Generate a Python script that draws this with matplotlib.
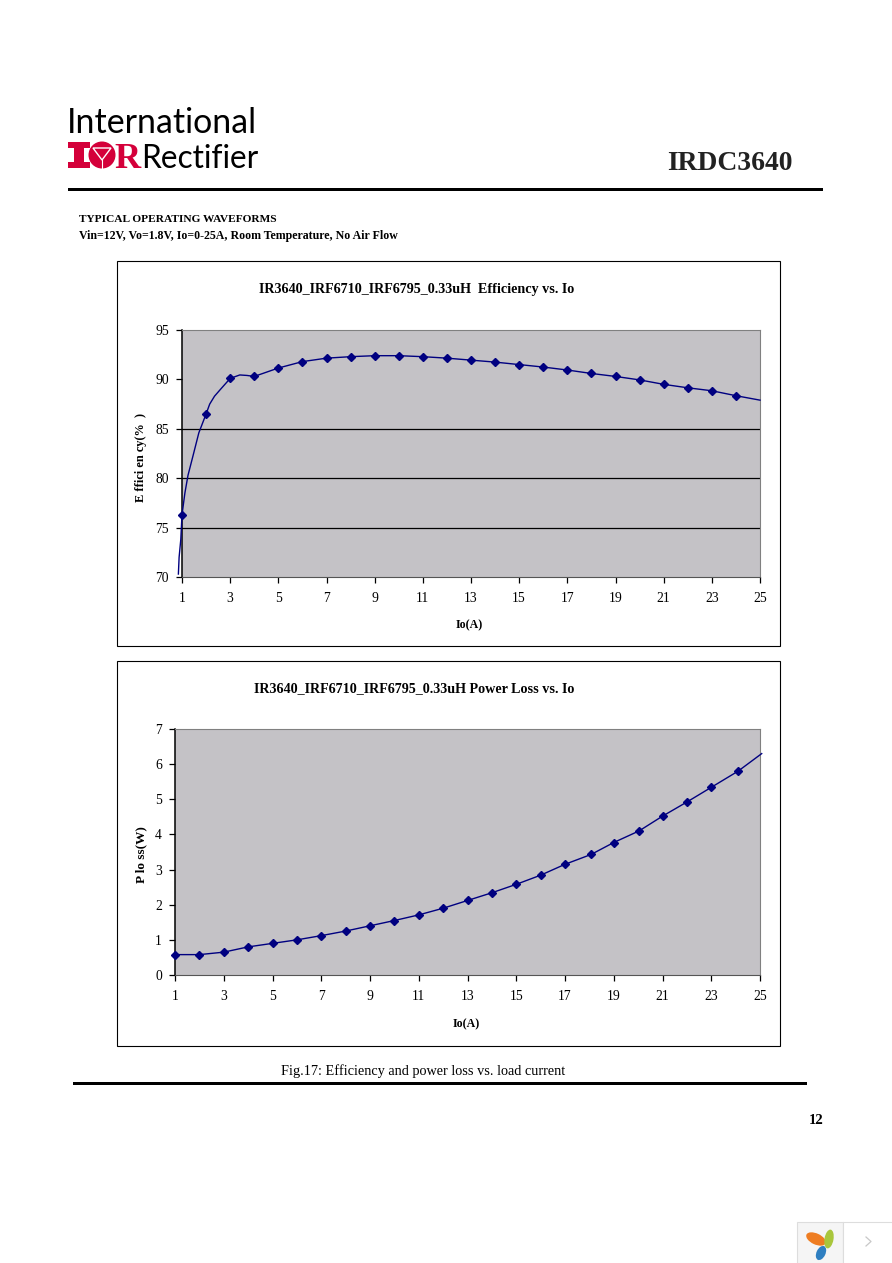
import matplotlib
matplotlib.use('Agg')
import matplotlib.pyplot as plt
from matplotlib.patches import Rectangle, Circle, Ellipse, Polygon

W, H = 892, 1263
SERIF = 'Liberation Serif'
NAVY = '#000080'
PLOT_BG = '#c4c2c6'
RED = '#d4003a'

# efficiency, markers at Io = 1..24
io_marks = list(range(1, 25))
eff_marks = [76.3, 86.5, 90.1, 90.3, 91.15, 91.8, 92.15, 92.3, 92.4, 92.4, 92.3, 92.15,
             91.95, 91.75, 91.5, 91.25, 90.95, 90.6, 90.3, 89.95, 89.5, 89.15, 88.85, 88.35]
# the curve, it starts left of the axis and bends between markers
eff_line_x = [0.85, 0.88, 0.95, 1, 1.12, 1.25, 1.45, 1.7, 2, 2.15, 2.35, 2.6, 3, 3.4, 3.7, 4,
              5, 6, 7, 8, 9, 10, 11, 12, 13, 14, 15, 16, 17, 18, 19, 20, 21, 22, 23, 24, 25]
eff_line_y = [70.3, 72, 73.8, 76.3, 78.5, 80.3, 82.2, 84.6, 86.5, 87.5, 88.3, 89.0, 90.1, 90.45, 90.4, 90.3,
              91.15, 91.8, 92.15, 92.3, 92.4, 92.4, 92.3, 92.15, 91.95, 91.75, 91.5, 91.25,
              90.95, 90.6, 90.3, 89.95, 89.5, 89.15, 88.85, 88.35, 87.9]
eff_ticks = [70, 75, 80, 85, 90, 95]
eff_grid = [75, 80, 85]

# power loss, the later markers sit slightly right of their ticks
loss_io = [1, 2, 3, 4, 5, 6, 7, 8, 9, 10, 11, 12, 13, 14, 15, 16, 17, 18.07, 19, 20.04, 21, 22.02, 23, 24.1]
loss_marks = [0.58, 0.58, 0.65, 0.8, 0.9, 1.0, 1.12, 1.25, 1.4, 1.55, 1.71, 1.9,
              2.12, 2.34, 2.58, 2.84, 3.15, 3.43, 3.77, 4.1, 4.52, 4.93, 5.34, 5.8]
loss_line_x = loss_io + [25.07]
loss_line_y = loss_marks + [6.3]
loss_ticks = [0, 1, 2, 3, 4, 5, 6, 7]

x_ticks = list(range(1, 26, 2))


def ax_px(fig, left, top, right, bottom):
    return fig.add_axes([left / W, 1 - bottom / H, (right - left) / W, (bottom - top) / H])


def chart(fig, box, line_x, line_y, marks_x, marks, ylim, yticks, ylabel, ylabel_size, ylabel_y, xlabel_x, xlabel_y):
    left, top, right, bottom = box
    ax = ax_px(fig, left, top, right, bottom)
    ax.set_facecolor(PLOT_BG)
    ax.plot(line_x, line_y, color=NAVY, lw=1.0, clip_on=False, zorder=4)
    ax.plot(marks_x, marks, ls='none', marker='D', ms=4.5, color=NAVY, clip_on=False, zorder=5)
    ax.set_xlim(1, 25)
    ax.set_ylim(*ylim)
    ax.set_xticks(x_ticks)
    ax.set_yticks(yticks)
    ax.tick_params(length=4.5, width=0.9, labelsize=9.8, color='black')
    ax.tick_params(axis='x', pad=6)
    ax.tick_params(axis='y', pad=5)
    for lab in ax.get_xticklabels() + ax.get_yticklabels():
        lab.set_family(SERIF)
    ax.spines['right'].set_color('#808080')
    ax.spines['top'].set_color('#808080')
    ax.spines['bottom'].set_color('#555555')
    ax.spines['left'].set_linewidth(1.1)
    fig.text(141 / W, 1 - ylabel_y / H, ylabel, rotation=90, family=SERIF,
             weight='bold', fontsize=ylabel_size, ha='center', va='center')
    fig.text(xlabel_x / W, 1 - xlabel_y / H, 'Io(A)', family=SERIF, weight='bold',
             fontsize=8.6, ha='center', va='center')
    return ax


fig = plt.figure(figsize=(W / 100, H / 100), dpi=100, facecolor='white')

# page layer in pixel coordinates
page = fig.add_axes([0, 0, 1, 1])
page.set_xlim(0, W)
page.set_ylim(H, 0)
page.axis('off')

# logo
page.text(67, 133, 'International', family='Lato', fontsize=24.4, va='baseline', color='black')
page.text(141, 168, 'Rectifier', family='Lato', fontsize=22.8, va='baseline', color='black')
page.add_patch(Rectangle((68, 142), 22, 6, color=RED, lw=0))
page.add_patch(Rectangle((68, 162), 22, 6, color=RED, lw=0))
page.add_patch(Rectangle((74, 142), 10, 26, color=RED, lw=0))
page.add_patch(Circle((102, 155), 13.5, color=RED, lw=0))
page.add_patch(Polygon([[93, 148], [111, 148], [102, 160]], fc=RED, ec='white', lw=1.0))
page.plot([102, 102], [160, 168.5], color='white', lw=0.8)
page.text(114, 168, 'R', family=SERIF, weight='bold', fontsize=26, va='baseline', color=RED)

page.text(793, 163, 'IRDC3640', family=SERIF, weight='bold', fontsize=19.9, ha='right', va='center', color='#222222')
page.add_patch(Rectangle((68, 187.5), 755, 3, color='black', lw=0))

page.text(79, 219, 'TYPICAL OPERATING WAVEFORMS', family=SERIF, weight='bold', fontsize=8.2, va='center')
page.text(79, 236, 'Vin=12V, Vo=1.8V, Io=0-25A, Room Temperature, No Air Flow', family=SERIF, weight='bold',
          fontsize=8.6, va='center')

# chart frames
page.add_patch(Rectangle((117, 261), 663, 385, fc='white', ec='black', lw=0.8))
page.add_patch(Rectangle((117, 661), 663, 385, fc='white', ec='black', lw=0.8))

page.text(416.5, 290, 'IR3640_IRF6710_IRF6795_0.33uH  Efficiency vs. Io', family=SERIF, weight='bold',
          fontsize=10.2, ha='center', va='center')
page.text(414.5, 689, 'IR3640_IRF6710_IRF6795_0.33uH Power Loss vs. Io', family=SERIF, weight='bold',
          fontsize=10.2, ha='center', va='center')

page.text(423.5, 1071, 'Fig.17: Efficiency and power loss vs. load current', family=SERIF, fontsize=10.3,
          ha='center', va='center')
page.add_patch(Rectangle((73, 1082), 734, 2.5, color='black', lw=0))
page.text(824, 1120, '12', family=SERIF, weight='bold', fontsize=10.5, ha='right', va='center')

# viewer widget, bottom right
page.add_patch(Rectangle((796.5, 1221.5), 46, 42, fc='#f5f5f5', ec='#dddddd', lw=0.8))
page.add_patch(Rectangle((842.5, 1221.5), 50, 42, fc='white', ec='#dddddd', lw=0.8))
page.add_patch(Ellipse((816, 1239), 21, 11, angle=25, color='#ee7d22', lw=0))
page.add_patch(Ellipse((829, 1239), 9, 19, angle=10, color='#a9c63c', lw=0))
page.add_patch(Ellipse((821, 1253), 9, 15, angle=25, color='#2f7fc1', lw=0))
page.plot([866, 871, 866], [1237, 1241.5, 1246], color='#c8c8c8', lw=0.9)

ax1 = chart(fig, (182, 330, 760, 577), eff_line_x, eff_line_y, io_marks, eff_marks, (70, 95), eff_ticks,
            'E ffici en cy(%  )', 8.9, 457, 469.5, 625)
for val in eff_grid:
    ax1.axhline(val, color='black', lw=0.9, zorder=2)

chart(fig, (175, 729, 760, 975), loss_line_x, loss_line_y, loss_io, loss_marks, (0, 7), loss_ticks,
      'P lo ss(W)', 9.5, 855, 466, 1024)

fig.savefig('out.png', dpi=100)
